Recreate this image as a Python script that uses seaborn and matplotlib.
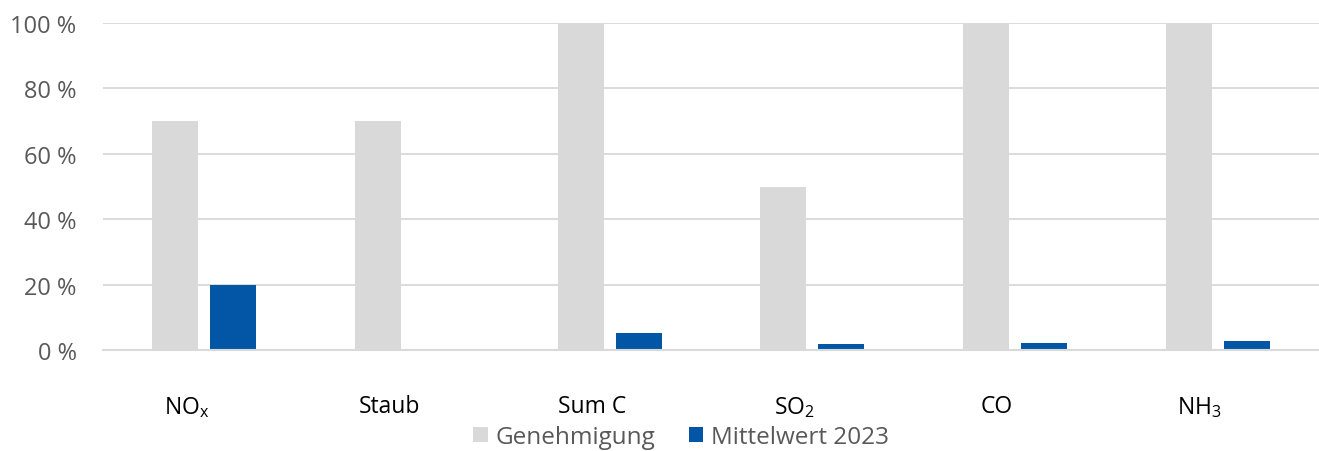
import matplotlib
matplotlib.use("Agg")
import matplotlib.pyplot as plt
import matplotlib.transforms as mtransforms
from matplotlib.patches import Patch
import seaborn as sns
import pandas as pd

categories = [r"NO$_\mathregular{x}$", "Staub", "Sum C", r"SO$_\mathregular{2}$", "CO", r"NH$_\mathregular{3}$"]
genehmigung = [70, 70, 100, 50, 100, 100]
mittelwert = [20, 0.2, 5.2, 1.8, 2.1, 2.7]
series = ["Genehmigung", "Mittelwert 2023"]
yticks = [0, 20, 40, 60, 80, 100]
ytick_labels = ["0 %", "20 %", "40 %", "60 %", "80 %", "100 %"]

colors = ["#D9D9D9", "#0356A5"]

sns.set_theme(style="white")
plt.rcParams["font.family"] = ["Open Sans", "DejaVu Sans"]
plt.rcParams["mathtext.fontset"] = "custom"
plt.rcParams["mathtext.rm"] = "Open Sans"
plt.rcParams["mathtext.it"] = "Open Sans"

df = pd.DataFrame({
    "cat": categories * 2,
    "val": genehmigung + mittelwert,
    "series": [series[0]] * len(categories) + [series[1]] * len(categories),
})

W, H = 1319, 452
fig = plt.figure(figsize=(W / 100, H / 100), dpi=100)
ax = fig.add_axes([103 / W, 1 - 351 / H, 1 - 103 / W, (351 - 24) / H])

sns.barplot(data=df, x="cat", y="val", hue="series", palette=colors,
            width=0.572, gap=0.206, ax=ax, legend=False, saturation=1,
            linewidth=0, edgecolor="none")

ax.set_ylim(0, 100)
ax.set_xlim(-0.5, len(categories) - 0.5)
ax.set_yticks(yticks)
ax.set_yticklabels(ytick_labels)
ax.yaxis.grid(True, color="#D9D9D9", linewidth=1.3)
ax.set_axisbelow(True)
for s in ["top", "right", "left"]:
    ax.spines[s].set_visible(False)
ax.spines["bottom"].set_color("#D9D9D9")
ax.spines["bottom"].set_linewidth(1.5)
ax.set_xlabel("")
ax.set_ylabel("")
ax.tick_params(axis="y", length=0, pad=19, labelsize=17, labelcolor="#595959")
ax.tick_params(axis="x", length=0, pad=32, labelsize=16.5, labelcolor="#000000")

offset = mtransforms.ScaledTranslation(-18 / 100, 0, fig.dpi_scale_trans)
for lab in ax.get_xticklabels():
    lab.set_transform(lab.get_transform() + offset)

handles = [Patch(facecolor=c, edgecolor="none") for c in colors]
fig.legend(handles, series, loc="center", bbox_to_anchor=(681 / W, 1 - 438 / H),
           ncol=2, frameon=False, fontsize=17.5, labelcolor="#595959",
           handlelength=0.6, handleheight=0.6, handletextpad=0.3,
           columnspacing=1.4, borderpad=0)

fig.savefig("out.png", dpi=100)
